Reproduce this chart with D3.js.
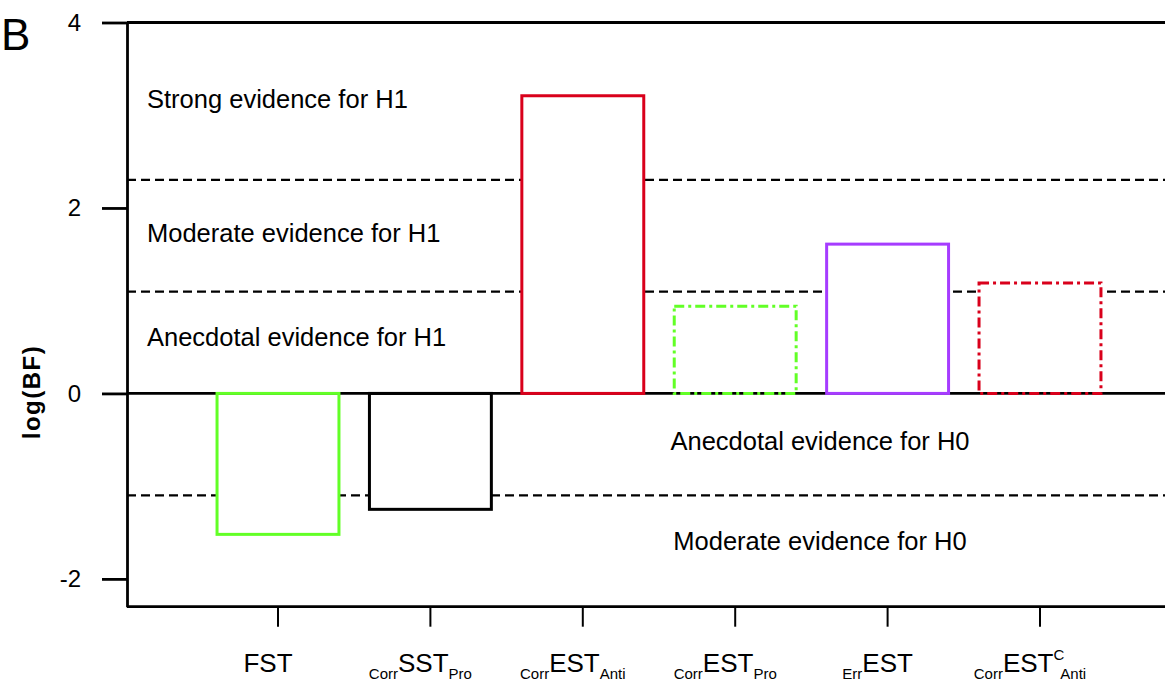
<!DOCTYPE html>
<html>
<head>
<meta charset="utf-8">
<script src="https://cdn.jsdelivr.net/npm/d3@7"></script>
<style>
  html, body { margin: 0; padding: 0; background: #fff; }
  svg { display: block; font-family: "Liberation Sans", Arial, sans-serif; }
</style>
</head>
<body>
<svg id="chart" width="1165" height="683"></svg>
<script>
// Conditions (x categories) and their label pieces
const categories = ["FST", "CorrSSTPro", "CorrESTAnti", "CorrESTPro", "ErrEST", "CorrESTCAnti"];
const labelPre   = ["", "Corr", "Corr", "Corr", "Err", "Corr"];
const labelMain  = ["FST", "SST", "EST", "EST", "EST", "EST"];
const labelSup   = ["", "", "", "", "", "C"];
const labelPost  = ["", "Pro", "Anti", "Pro", "", "Anti"];

// log Bayes factor per condition
const logBF = [-1.52, -1.25, 3.21, 0.94, 1.61, 1.19];

// Evidence thresholds (log 10, log 3, log 1/3)
const thresholds = [Math.log(10), Math.log(3), -Math.log(3)];

// Y axis ticks
const yTicks = [4, 2, 0, -2];

// Evidence zone captions
const zoneText = ["Strong evidence for H1", "Moderate evidence for H1", "Anecdotal evidence for H1",
                  "Anecdotal evidence for H0", "Moderate evidence for H0"];
const zoneSide = ["left", "left", "left", "right", "right"];
const zoneLevel = [3.08, 1.63, 0.51, -0.61, -1.69];

// Bar outline styles
const barColor = ["#62ff26", "#000000", "#d9001b", "#62ff26", "#a63cff", "#d9001b"];
const barDash  = ["", "", "", "10,4,3,4", "", "10,4,3,4"];

const W = 1165, H = 683;
const plotL = 127, plotR = W, plotT = 22.5, plotB = 606.7;

const svg = d3.select("#chart");

const y = d3.scaleLinear().domain([-2.3, 4]).range([plotB, plotT]);
const x = d3.scaleBand()
  .domain(categories)
  .range([201.8, 1116.2])
  .paddingInner(0.2)
  .paddingOuter(0.1);

// Threshold dashed lines
svg.append("g").selectAll("line").data(thresholds).join("line")
  .attr("x1", plotL).attr("x2", plotR)
  .attr("y1", d => y(d)).attr("y2", d => y(d))
  .attr("stroke", "#000").attr("stroke-width", 2.2)
  .attr("stroke-dasharray", "9,5");

const bars = categories.map((c, i) => ({ c, v: logBF[i], color: barColor[i], dash: barDash[i] }));

// White bar bodies hide the reference lines behind them
svg.append("g").selectAll("rect").data(bars).join("rect")
  .attr("x", d => x(d.c))
  .attr("width", x.bandwidth())
  .attr("y", d => y(Math.max(0, d.v)))
  .attr("height", d => Math.abs(y(d.v) - y(0)))
  .attr("fill", "#fff");

// Zero line
svg.append("line")
  .attr("x1", plotL).attr("x2", plotR)
  .attr("y1", y(0)).attr("y2", y(0))
  .attr("stroke", "#000").attr("stroke-width", 2.8);

// Bar outlines
svg.append("g").selectAll("rect").data(bars).join("rect")
  .attr("x", d => x(d.c))
  .attr("width", x.bandwidth())
  .attr("y", d => y(Math.max(0, d.v)))
  .attr("height", d => Math.abs(y(d.v) - y(0)))
  .attr("fill", "none")
  .attr("stroke", d => d.color)
  .attr("stroke-width", 3)
  .attr("stroke-dasharray", d => d.dash || null);

// Frame: top and bottom lines
svg.append("line").attr("x1", plotL).attr("x2", plotR).attr("y1", plotT).attr("y2", plotT)
  .attr("stroke", "#000").attr("stroke-width", 2.8);
svg.append("line").attr("x1", plotL).attr("x2", plotR).attr("y1", plotB).attr("y2", plotB)
  .attr("stroke", "#000").attr("stroke-width", 2.8);

// Y axis
const yAxis = svg.append("g")
  .attr("transform", `translate(${plotL},0)`)
  .call(d3.axisLeft(y).tickValues(yTicks).tickSize(25).tickSizeOuter(0).tickPadding(21)
    .tickFormat(d => String(d)));
yAxis.select(".domain").attr("stroke-width", 2.8);
yAxis.selectAll(".tick line").attr("stroke-width", 2.8);
yAxis.selectAll(".tick text").attr("font-size", 24).attr("font-family", "Liberation Sans, Arial, sans-serif")
  .attr("fill", "#000");

// X axis ticks
const xAxis = svg.append("g")
  .attr("transform", `translate(0,${plotB})`)
  .call(d3.axisBottom(x).tickSize(20).tickSizeOuter(0).tickFormat(""));
xAxis.select(".domain").remove();
xAxis.selectAll(".tick line").attr("stroke-width", 2);

// X labels with sub/superscripts
const lab = svg.append("g").selectAll("text").data(categories).join("text")
  .attr("x", d => x(d) + x.bandwidth() / 2 - 10)
  .attr("y", 672)
  .attr("text-anchor", "middle")
  .attr("fill", "#000");
lab.each(function(d, i) {
  const t = d3.select(this);
  if (labelPre[i]) t.append("tspan").attr("font-size", 15).attr("dy", 7).text(labelPre[i]);
  t.append("tspan").attr("font-size", 26).attr("dy", labelPre[i] ? -7 : 0).text(labelMain[i]);
  if (labelSup[i]) {
    t.append("tspan").attr("font-size", 15).attr("dy", -12).text(labelSup[i]);
    t.append("tspan").attr("font-size", 15).attr("dy", 19).attr("dx", -4).text(labelPost[i]);
  } else if (labelPost[i]) {
    t.append("tspan").attr("font-size", 15).attr("dy", 7).text(labelPost[i]);
  }
});

// Evidence zone captions
svg.append("g").selectAll("text").data(zoneText).join("text")
  .attr("x", (d, i) => zoneSide[i] === "left" ? 147 : 820)
  .attr("y", (d, i) => y(zoneLevel[i]))
  .attr("text-anchor", (d, i) => zoneSide[i] === "left" ? "start" : "middle")
  .attr("font-size", 25.5)
  .attr("fill", "#000")
  .text(d => d);

// Y axis title
svg.append("text")
  .attr("transform", `translate(40,392) rotate(-90)`)
  .attr("text-anchor", "middle")
  .attr("font-size", 24)
  .attr("font-weight", "bold")
  .attr("letter-spacing", 1.5)
  .text("log(BF)");

// Panel letter
svg.append("text")
  .attr("x", 1).attr("y", 50)
  .attr("font-size", 44)
  .text("B");
</script>
</body>
</html>
